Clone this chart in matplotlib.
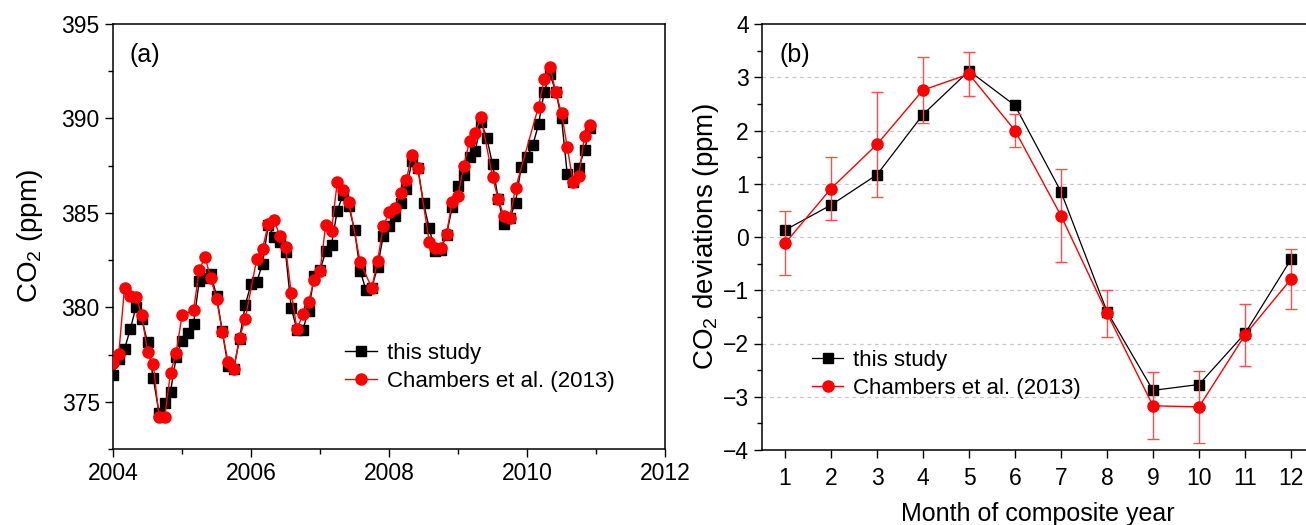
import numpy as np
import matplotlib
matplotlib.use("Agg")
import matplotlib.pyplot as plt
from matplotlib.ticker import MultipleLocator

plt.rcParams['font.family'] = ['Liberation Sans', 'DejaVu Sans']
plt.rcParams['mathtext.fontset'] = 'custom'
plt.rcParams['mathtext.rm'] = 'Liberation Sans'
plt.rcParams['mathtext.it'] = 'Liberation Sans:italic'

# ---------------- data: panel (a) ----------------
start_year = 2004
this_study = [376.42, 377.26, 377.79, 378.84, 380.02, 379.40, 378.14, 376.25, 374.43, 374.95,
              375.54, 377.39, 378.24, 378.63, 379.12, 381.40, 381.56, 381.77, 380.62, 378.75,
              376.88, 376.74, 378.33, 380.11, 381.24, 381.33, 382.32, 384.35, 383.75, 383.46,
              382.92, 379.95, 378.82, 378.82, 379.79, 381.68, 381.96, 382.96, 383.32, 385.12,
              385.95, 385.38, 384.09, 381.93, 380.91, 381.03, 382.12, 383.79, 384.32, 384.84,
              385.51, 386.25, 387.75, 387.40, 385.51, 384.19, 382.96, 383.05, 383.85, 385.33,
              386.42, 387.00, 387.96, 388.26, 389.81, 388.98, 387.58, 385.72, 384.40, 384.72,
              385.54, 387.44, 387.96, 388.58, 389.68, 391.42, 392.35, 391.42, 390.02, 387.05,
              386.65, 387.40, 388.33, 389.51]
chambers = [377.04, 377.53, 381.03, 380.60, 380.55, 379.59, 377.66, 377.00, 374.19, 374.19,
            376.55, 377.60, 379.59, None, 379.84, 381.97, 382.67, 381.54, 380.46, 378.70,
            377.12, 376.75, 378.37, 379.40, None, 382.56, 383.10, 384.40, 384.63, 383.79,
            383.19, 380.77, 378.84, 379.63, 380.28, 381.47, 381.91, 384.37, 384.02, 386.65,
            386.21, 385.60, None, 382.39, None, 381.03, 382.43, 384.28, 385.04, 385.25,
            386.07, 386.74, 388.09, 387.40, None, 383.47, 383.14, 383.14, 383.88, 385.60,
            385.91, 387.47, 388.80, 389.25, 390.07, None, 386.91, 385.72, 384.81, 384.75,
            386.30, None, None, None, 390.63, 392.09, 392.74, 391.38, 390.28, 388.49,
            386.65, 386.95, 389.07, 389.67]

# ---------------- data: panel (b) ----------------
months = [1, 2, 3, 4, 5, 6, 7, 8, 9, 10, 11, 12]
dev_this = [0.13, 0.60, 1.17, 2.30, 3.12, 2.47, 0.85, -1.40, -2.88, -2.77, -1.81, -0.42]
dev_chambers = [-0.12, 0.91, 1.74, 2.76, 3.06, 2.00, 0.40, -1.43, -3.17, -3.19, -1.84, -0.79]
dev_chambers_err = [0.60, 0.60, 0.98, 0.62, 0.41, 0.31, 0.87, 0.44, 0.63, 0.67, 0.59, 0.56]

legend_labels = ['this study', 'Chambers et al. (2013)']

TFS = 16.5   # tick labels
LFS = 16     # legend
AFS = 18     # panel letters / xlabel
YFS = 20     # y labels

fig = plt.figure(figsize=(13.06, 5.25), dpi=100)
ax1 = fig.add_axes([113/1306, 1-449/525, (665-113)/1306, (449-24)/525])
ax2 = fig.add_axes([762/1306, 1-450/525, (1314-762)/1306, (450-24)/525])

# panel (a)
t = np.array([start_year + i/12 for i in range(len(this_study))])
ch_t = np.array([start_year + i/12 for i, v in enumerate(chambers) if v is not None])
ch_v = np.array([v for v in chambers if v is not None])
ax1.plot(t, this_study, '-', color='black', lw=1.0, marker='s', ms=6.8,
         mfc='black', mec='black', label=legend_labels[0], zorder=3)
ax1.plot(ch_t, ch_v, '-', color='red', lw=1.0, marker='o', ms=8.0,
         mfc='red', mec='red', label=legend_labels[1], zorder=4)
ax1.set_xlim(2004, 2012)
ax1.set_ylim(372.5, 395)
ax1.xaxis.set_major_locator(MultipleLocator(2))
ax1.xaxis.set_minor_locator(MultipleLocator(1))
ax1.yaxis.set_major_locator(MultipleLocator(5))
ax1.yaxis.set_minor_locator(MultipleLocator(2.5))
ax1.set_ylabel('CO$_2$ (ppm)', fontsize=YFS, labelpad=12)
ax1.text(0.03, 0.927, '(a)', transform=ax1.transAxes, fontsize=AFS, va='center', ha='left')
ax1.legend(loc='upper left', bbox_to_anchor=(0.405, 0.27), frameon=False, fontsize=LFS,
           handlelength=1.4, handletextpad=0.45, labelspacing=0.3, borderaxespad=0)

# panel (b)
for y in range(-3, 4):
    ax2.axhline(y, color='#c8c8c8', lw=0.9, ls=(0, (3, 3)), zorder=0)
h1, = ax2.plot(months, dev_this, '-', color='black', lw=0.9, marker='s', ms=6.8,
               mfc='black', mec='black', zorder=3)
eb = ax2.errorbar(months, dev_chambers, yerr=dev_chambers_err, fmt='-o', color='red',
                  ecolor='#ff4d4d', elinewidth=1.0, capsize=4, capthick=1.0, lw=1.0,
                  ms=8.0, mfc='red', mec='red', zorder=4)
ax2.set_xlim(0.5, 12.5)
ax2.set_ylim(-4, 4)
ax2.xaxis.set_major_locator(MultipleLocator(1))
ax2.yaxis.set_major_locator(MultipleLocator(1))
ax2.yaxis.set_minor_locator(MultipleLocator(0.5))
ax2.set_ylabel('CO$_2$ deviations (ppm)', fontsize=YFS, labelpad=1)
ax2.set_xlabel('Month of composite year', fontsize=AFS, labelpad=9)
ax2.text(0.031, 0.927, '(b)', transform=ax2.transAxes, fontsize=AFS, va='center', ha='left')
ax2.legend([h1, eb.lines[0]], legend_labels, loc='upper left', bbox_to_anchor=(0.075, 0.255),
           frameon=False, fontsize=LFS, handlelength=1.4, handletextpad=0.45,
           labelspacing=0.3, borderaxespad=0)

for ax in (ax1, ax2):
    ax.tick_params(which='major', direction='out', length=6, width=1.0, labelsize=TFS,
                   top=False, right=False)
    ax.tick_params(which='minor', direction='out', length=3.5, width=1.0, top=False, right=False)
    for s in ax.spines.values():
        s.set_linewidth(1.1)
ax2.tick_params(axis='x', which='major', pad=6)

fig.savefig('out.png', dpi=100)
